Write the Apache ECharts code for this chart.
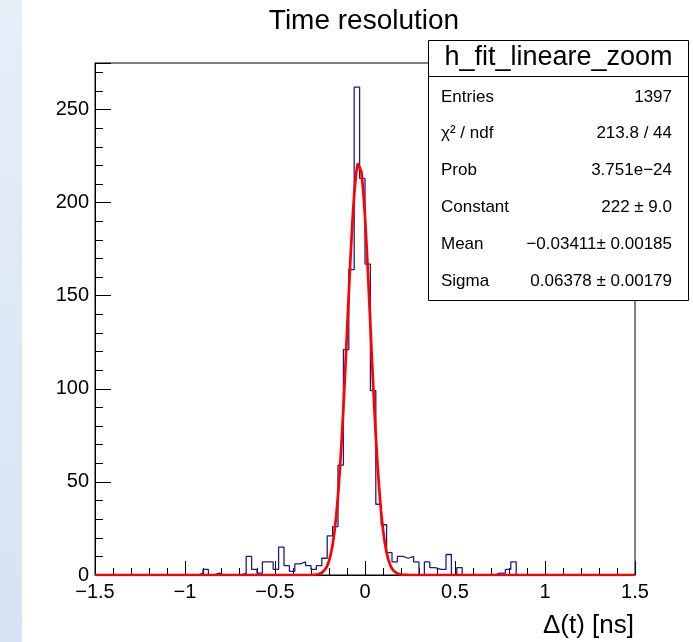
<!DOCTYPE html>
<html>
<head>
<meta charset="utf-8">
<script src="https://cdn.jsdelivr.net/npm/echarts@6/dist/echarts.min.js"></script>
<style>
  html, body { margin: 0; padding: 0; background: #fff; }
  #chart { width: 693px; height: 642px; }
</style>
</head>
<body>
<div id="chart"></div>
<script>
// histogram: 100 bins of 0.03 ns between -1.5 and 1.5
var binMin = -1.5;
var binWidth = 0.03;
var binCounts = [
  0, 0, 0, 0, 0, 0, 0, 0, 0, 0,
  0, 0, 0, 0, 0, 0, 0, 0, 0, 1,
  3, 0, 1, 0, 0, 0, 0, 1, 10, 3,
  1, 7, 7, 3, 15, 5, 2, 6, 7, 5,
  3, 5, 9, 21, 26, 59, 121, 164, 262, 213,
  167, 99, 38, 27, 12, 7, 10, 9, 10, 7,
  0, 7, 4, 3, 3, 11, 0, 4, 0, 0,
  0, 0, 0, 0, 1, 1, 3, 7, 0, 0,
  0, 0, 0, 0, 0, 0, 0, 0, 0, 0,
  0, 0, 0, 0, 0, 0, 0, 0, 0, 0
];

// red fit curve, read every 0.01 ns across the peak (flat at 0 elsewhere)
var fitStart = -0.30;
var fitStep = 0.01;
var fitValues = [
  0.04, 0.07, 0.13, 0.24, 0.42, 0.72, 1.21, 1.98, 3.17, 4.95,
  7.54, 11.2, 16.2, 22.9, 31.7, 42.6, 56.0, 71.7, 89.6, 109.4,
  130.2, 151.2, 171.4, 189.5, 204.4, 215.2, 221.1, 221.5, 216.6, 206.7,
  192.4, 174.8, 154.9, 134.0, 113.0, 93.0, 74.7, 58.6, 44.8, 33.4,
  24.3, 17.3, 12.0, 8.10, 5.35, 3.44, 2.16, 1.33, 0.79, 0.46,
  0.26, 0.15, 0.08, 0.04, 0.02
];
var fitEnds = [-1.5, 1.5];

var xMin = -1.5, xMax = 1.5, xStep = 0.5;
var yMin = 0, yMax = 275, yStep = 50, yMinorStep = 10;

var titleText = 'Time resolution';
var xTitle = '\u0394(t) [ns]';
var statsTitle = 'h_fit_lineare_zoom';
var statsLabels = ['Entries', '\u03c7\u00b2 / ndf', 'Prob', 'Constant', 'Mean', 'Sigma'];
var statsValues = ['1397', '213.8 / 44', '3.751e\u221224', '222 \u00b1 9.0',
  '\u22120.03411\u00b1 0.00185', '0.06378 \u00b1 0.00179'];

var histData = binCounts.map(function (c, i) { return [binMin + i * binWidth, c]; });
histData.push([binMin + binCounts.length * binWidth, binCounts[binCounts.length - 1]]);

var fitData = [[fitEnds[0], 0]];
fitValues.forEach(function (v, i) { fitData.push([fitStart + i * fitStep, v]); });
fitData.push([fitEnds[1], 0]);

var FONT = '"Liberation Sans", Arial, Helvetica, sans-serif';
function minus(v) { return String(v).replace('-', '\u2212'); }

var chart = echarts.init(document.getElementById('chart'));

var graphics = [
  {
    type: 'rect', z: 0, silent: true,
    shape: { x: 0, y: 0, width: 22, height: 642 },
    style: { fill: { type: 'linear', x: 0, y: 0, x2: 0, y2: 1,
      colorStops: [{ offset: 0, color: '#e6eef8' }, { offset: 1, color: '#d5e3f4' }] } }
  },
  {
    type: 'text', x: 364, y: 21, z: 100,
    style: { text: titleText, font: '28px ' + FONT, fill: '#000',
      textAlign: 'center', textVerticalAlign: 'middle', align: 'center', verticalAlign: 'middle' }
  },
  {
    type: 'text', x: 634, y: 626, z: 100,
    style: { text: xTitle, font: '26px ' + FONT, fill: '#000',
      textAlign: 'right', textVerticalAlign: 'middle', align: 'right', verticalAlign: 'middle' }
  },
  {
    type: 'rect', z: 100,
    shape: { x: 428.5, y: 40.5, width: 260, height: 260 },
    style: { fill: '#fff', stroke: '#000', lineWidth: 1 }
  },
  {
    type: 'line', z: 101,
    shape: { x1: 428.5, y1: 76.5, x2: 688.5, y2: 76.5 },
    style: { stroke: '#000', lineWidth: 1 }
  },
  {
    type: 'text', x: 558.5, y: 58, z: 101,
    style: { text: statsTitle, font: '27px ' + FONT, fill: '#000',
      textAlign: 'center', textVerticalAlign: 'middle', align: 'center', verticalAlign: 'middle' }
  }
];
statsLabels.forEach(function (lab, i) {
  var y = 97 + i * 36.8;
  graphics.push({
    type: 'text', x: 441, y: y, z: 101,
    style: { text: lab, font: '17px ' + FONT, fill: '#000',
      textAlign: 'left', textVerticalAlign: 'middle', align: 'left', verticalAlign: 'middle' }
  });
  graphics.push({
    type: 'text', x: 672, y: y, z: 101,
    style: { text: statsValues[i], font: '17px ' + FONT, fill: '#000',
      textAlign: 'right', textVerticalAlign: 'middle', align: 'right', verticalAlign: 'middle' }
  });
});

chart.setOption({
  animation: false,
  backgroundColor: '#fff',
  grid: { left: 95, top: 63, width: 540, height: 512, show: true,
    borderColor: '#000', borderWidth: 1, backgroundColor: 'transparent' },
  xAxis: {
    type: 'value', min: xMin, max: xMax, interval: xStep,
    axisLine: { onZero: false, lineStyle: { color: '#000', width: 1 } },
    axisTick: { inside: true, length: 14, lineStyle: { color: '#000', width: 1 } },
    minorTick: { show: true, splitNumber: 5, length: 7, lineStyle: { color: '#000', width: 1 } },
    splitLine: { show: false },
    minorSplitLine: { show: false },
    axisLabel: { color: '#000', fontSize: 20, fontFamily: FONT, margin: 7,
      showMinLabel: true, showMaxLabel: true, formatter: minus }
  },
  yAxis: [
    {
      type: 'value', min: yMin, max: yMax, interval: yStep, position: 'left',
      axisLine: { show: true, onZero: false, lineStyle: { color: '#000', width: 1 } },
      axisTick: { inside: true, length: 16, lineStyle: { color: '#000', width: 1 } },
      splitLine: { show: false },
      axisLabel: { color: '#000', fontSize: 20, fontFamily: FONT, margin: 6,
        formatter: function (v) { return v % yStep === 0 ? String(v) : ''; } }
    },
    {
      type: 'value', min: yMin, max: yMax, interval: yMinorStep, position: 'left', offset: 0,
      axisLine: { show: false, onZero: false },
      axisTick: { inside: true, length: 8, lineStyle: { color: '#000', width: 1 } },
      splitLine: { show: false },
      axisLabel: { show: false }
    }
  ],
  series: [
    {
      type: 'line', data: histData, step: 'end', symbol: 'none', showSymbol: false,
      lineStyle: { color: '#1c1c8e', width: 1.3 }, z: 2, silent: true
    },
    {
      type: 'line', data: fitData, symbol: 'none', showSymbol: false,
      lineStyle: { color: '#ff0000', width: 2.7 }, z: 3, silent: true
    }
  ],
  graphic: graphics
});
</script>
</body>
</html>
